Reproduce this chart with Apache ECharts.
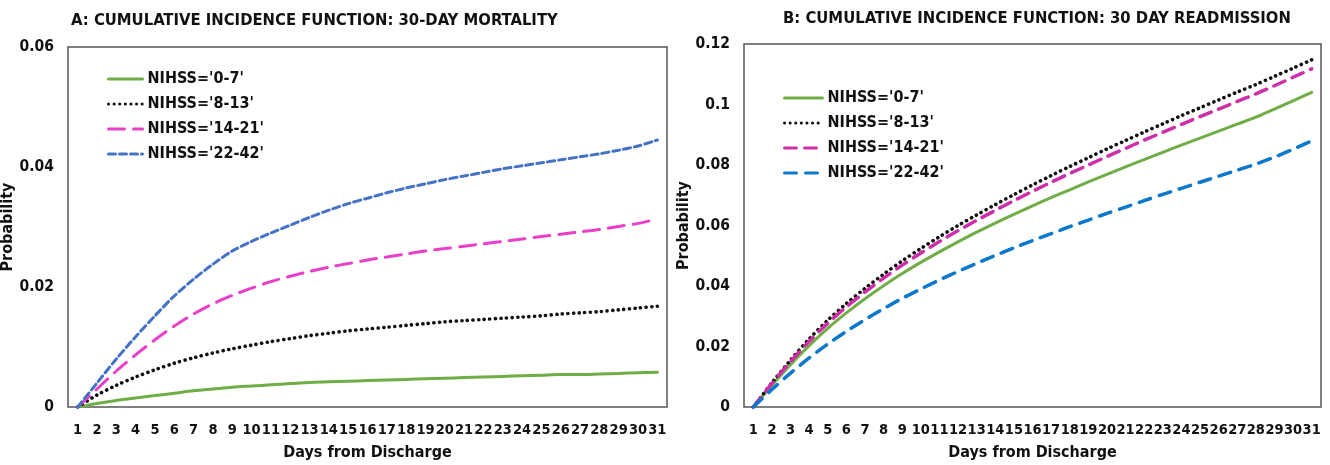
<!DOCTYPE html>
<html>
<head>
<meta charset="utf-8">
<script src="https://cdn.jsdelivr.net/npm/echarts@6/dist/echarts.min.js"></script>
<style>
    html, body { margin: 0; padding: 0; background: #fff; }
    #chart { width: 1330px; height: 465px; }
</style>
</head>
<body>
<div id="chart"></div>
<script>
    var days = [];
    for (var d = 1; d <= 31; d++) { days.push(String(d)); }

    var groups = ["NIHSS='0-7'", "NIHSS='8-13'", "NIHSS='14-21'", "NIHSS='22-42'"];

    // A: 30-day mortality
    var mort07 = [0, 0.0006, 0.0011, 0.0015, 0.0019, 0.0023, 0.0027, 0.003, 0.0033, 0.0035,
        0.0037, 0.0039, 0.0041, 0.0042, 0.0043, 0.0044, 0.0045, 0.0046, 0.0047, 0.0048,
        0.0049, 0.005, 0.0051, 0.0052, 0.0053, 0.0054, 0.0054, 0.0055, 0.0056, 0.0057, 0.0058];
    var mort813 = [0, 0.002, 0.0036, 0.005, 0.0062, 0.0073, 0.0082, 0.009, 0.0097, 0.0103,
        0.0109, 0.0114, 0.0119, 0.0123, 0.0127, 0.013, 0.0133, 0.0136, 0.0139, 0.0142,
        0.0144, 0.0146, 0.0148, 0.015, 0.0152, 0.0155, 0.0157, 0.0159, 0.0162, 0.0165, 0.0168];
    var mort1421 = [0, 0.003, 0.006, 0.0087, 0.0112, 0.0135, 0.0155, 0.0172, 0.0186, 0.0198,
        0.0209, 0.0218, 0.0226, 0.0233, 0.0239, 0.0245, 0.025, 0.0255, 0.026, 0.0264,
        0.0268, 0.0272, 0.0276, 0.028, 0.0284, 0.0288, 0.0292, 0.0296, 0.0301, 0.0306, 0.0313];
    var mort2242 = [0, 0.004, 0.008, 0.0117, 0.0152, 0.0185, 0.0213, 0.0238, 0.026, 0.0276,
        0.029, 0.0303, 0.0316, 0.0328, 0.0339, 0.0348, 0.0357, 0.0365, 0.0372, 0.0379,
        0.0385, 0.0391, 0.0397, 0.0402, 0.0407, 0.0412, 0.0417, 0.0422, 0.0428, 0.0435, 0.0445];

    // B: 30 day readmission
    var read07 = [0, 0.0072, 0.014, 0.0203, 0.026, 0.0311, 0.0358, 0.0401, 0.0441, 0.0478,
        0.0513, 0.0546, 0.0578, 0.0608, 0.0637, 0.0665, 0.0692, 0.0718, 0.0744, 0.0769,
        0.0794, 0.0818, 0.0842, 0.0866, 0.0889, 0.0912, 0.0935, 0.0958, 0.0985, 0.1012, 0.104];
    var read813 = [0, 0.008, 0.0155, 0.0225, 0.0287, 0.0342, 0.0392, 0.0439, 0.0483, 0.0524,
        0.0563, 0.06, 0.0635, 0.0669, 0.0702, 0.0734, 0.0765, 0.0795, 0.0824, 0.0853,
        0.0881, 0.0909, 0.0936, 0.0963, 0.0989, 0.1015, 0.1041, 0.1066, 0.1093, 0.112, 0.1148];
    var read1421 = [0, 0.0078, 0.015, 0.0217, 0.0277, 0.0331, 0.038, 0.0426, 0.0469, 0.0509,
        0.0547, 0.0583, 0.0617, 0.065, 0.0682, 0.0713, 0.0743, 0.0772, 0.08, 0.0828,
        0.0855, 0.0882, 0.0908, 0.0934, 0.096, 0.0985, 0.101, 0.1035, 0.1062, 0.109, 0.1118];
    var read2242 = [0, 0.0058, 0.0112, 0.0162, 0.0208, 0.025, 0.0289, 0.0325, 0.0359, 0.039,
        0.042, 0.0448, 0.0475, 0.0501, 0.0526, 0.055, 0.0573, 0.0596, 0.0618, 0.064,
        0.0661, 0.0682, 0.0703, 0.0723, 0.0743, 0.0763, 0.0783, 0.0803, 0.0826, 0.0852, 0.088];

    var font = "'Liberation Sans Narrow', 'DejaVu Sans Condensed', 'Liberation Sans', sans-serif";

    function yLabel(v) {
        return v === 0 ? '0' : String(Math.round(v * 100) / 100);
    }

    function line(panel, idx, data, color, type, width) {
        return {
            name: panel + groups[idx],
            type: 'line',
            xAxisIndex: panel === 'A ' ? 0 : 1,
            yAxisIndex: panel === 'A ' ? 0 : 1,
            data: data,
            symbol: 'none',
            showSymbol: false,
            smooth: 0.3,
            lineStyle: {color: color, type: type, width: width, cap: 'round'},
            itemStyle: {color: color}
        };
    }

    function xAxis(gridIndex) {
        return {
            type: 'category',
            gridIndex: gridIndex,
            data: days,
            boundaryGap: true,
            axisLine: {show: false},
            axisTick: {show: false},
            axisLabel: {interval: 0, margin: 16, color: '#111', fontFamily: font, fontWeight: 'bold', fontSize: 14.5},
            name: 'Days from Discharge',
            nameLocation: 'middle',
            nameGap: 38,
            nameTextStyle: {color: '#111', fontFamily: font, fontWeight: 'bold', fontSize: 16}
        };
    }

    function yAxis(gridIndex, max, gap) {
        return {
            type: 'value',
            gridIndex: gridIndex,
            min: 0,
            max: max,
            interval: 0.02,
            splitLine: {show: false},
            axisLine: {show: false},
            axisTick: {show: false},
            axisLabel: {margin: 14, color: '#111', fontFamily: font, fontWeight: 'bold', fontSize: 15.5, formatter: yLabel},
            name: 'Probability',
            nameLocation: 'middle',
            nameGap: gap,
            nameTextStyle: {color: '#111', fontFamily: font, fontWeight: 'bold', fontSize: 16}
        };
    }

    function legend(panel, left, top, itemWidth) {
        return {
            data: groups.map(function (g) { return panel + g; }),
            formatter: function (name) { return name.slice(2); },
            orient: 'vertical',
            left: left,
            top: top,
            itemWidth: itemWidth,
            itemHeight: 12,
            itemGap: 9,
            itemStyle: {opacity: 0},
            lineStyle: {width: 3},
            textStyle: {color: '#111', fontFamily: font, fontWeight: 'bold', fontSize: 16}
        };
    }

    var option = {
        animation: false,
        backgroundColor: '#fff',
        title: [{
            text: 'A: CUMULATIVE INCIDENCE FUNCTION: 30-DAY MORTALITY',
            left: 66, top: 7,
            textStyle: {color: '#111', fontFamily: font, fontWeight: 'bold', fontSize: 16.5}
        }, {
            text: 'B: CUMULATIVE INCIDENCE FUNCTION: 30 DAY READMISSION',
            left: 778, top: 5,
            textStyle: {color: '#111', fontFamily: font, fontWeight: 'bold', fontSize: 16.5}
        }],
        legend: [
            legend('A ', 102, 66, 34),
            legend('B ', 778, 85, 38)
        ],
        grid: [
            {left: 68, right: 663, top: 47, bottom: 58, outerBoundsMode: 'none', show: true, borderColor: '#555', borderWidth: 1.5},
            {left: 744, right: 9, top: 44, bottom: 58, outerBoundsMode: 'none', show: true, borderColor: '#555', borderWidth: 1.5}
        ],
        xAxis: [xAxis(0), xAxis(1)],
        yAxis: [yAxis(0, 0.06, 40), yAxis(1, 0.12, 35)],
        series: [
            line('A ', 0, mort07, '#70ad47', 'solid', 3),
            line('A ', 1, mort813, '#111', [0.1, 5.5], 3.6),
            line('A ', 2, mort1421, '#ea3fc8', [16, 9], 3),
            line('A ', 3, mort2242, '#4472c4', [7, 4], 3),
            line('B ', 0, read07, '#70ad47', 'solid', 3),
            line('B ', 1, read813, '#111', [0.1, 5.5], 3.6),
            line('B ', 2, read1421, '#cc2fa8', [12, 8], 3.5),
            line('B ', 3, read2242, '#0a78cc', [12, 9], 3.5)
        ]
    };

    var chart = echarts.init(document.getElementById('chart'));
    chart.setOption(option);
</script>
</body>
</html>
